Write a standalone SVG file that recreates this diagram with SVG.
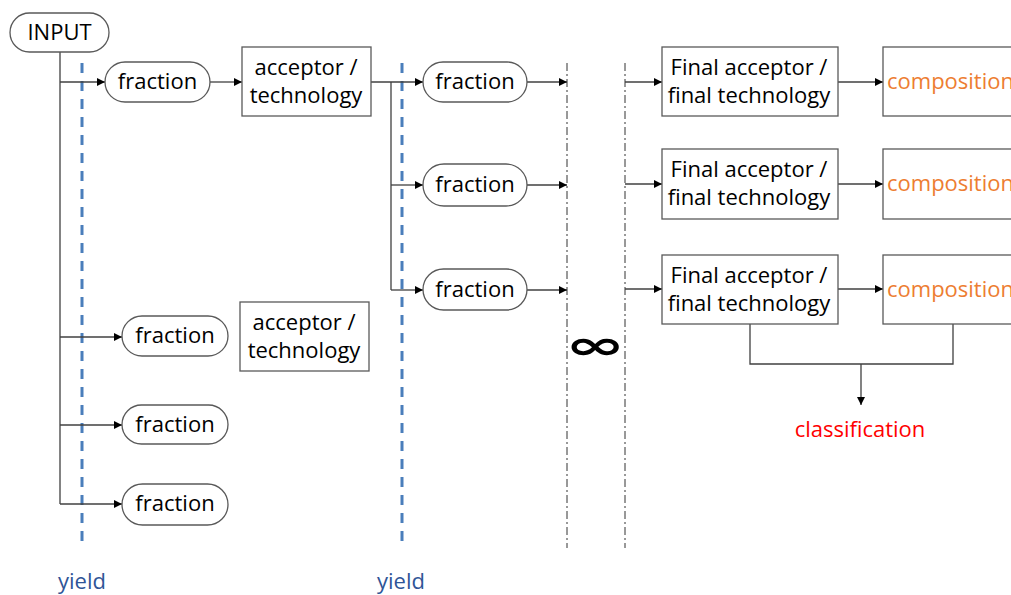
<svg xmlns="http://www.w3.org/2000/svg" width="1011" height="595" viewBox="0 0 1011 595">
<defs>
<marker id="ah" viewBox="0 0 10 10" refX="10" refY="5" markerWidth="8" markerHeight="8" markerUnits="userSpaceOnUse" orient="auto">
<path d="M0,0 L10,5 L0,10 z" fill="#000"/>
</marker>
<style>
.t{font-family:"Open Sans","Noto Sans",sans-serif;font-size:22px;fill:#000}
.pill,.box{fill:#fff;stroke:#595959;stroke-width:1.3}
.c{fill:none;stroke:#404040;stroke-width:1.3}
.a{marker-end:url(#ah)}
.yl{stroke:#4A7EBB;stroke-width:3;stroke-dasharray:10 8;fill:none}
.dd{stroke:#333;stroke-width:1;stroke-dasharray:8 3 2 3;fill:none}
.y{font-family:"Open Sans","Noto Sans",sans-serif;font-size:22px;fill:#2F5597}
.o{fill:#ED7D31}
.r{fill:#FF0000}
</style>
</defs>
<rect width="1011" height="595" fill="#fff"/>

<g id="guides">
<line class="yl" x1="82" y1="63" x2="82" y2="548"/>
<line class="yl" x1="402" y1="63" x2="402" y2="548"/>
<line class="dd" x1="567" y1="63" x2="567" y2="548"/>
<line class="dd" x1="625" y1="63" x2="625" y2="548"/>
</g>

<g id="connectors">
<path class="c" d="M60,52 V504"/>
<path class="c a" d="M60,82 H105"/>
<path class="c a" d="M60,337 H122"/>
<path class="c a" d="M60,425 H122"/>
<path class="c a" d="M60,504 H122"/>
<path class="c a" d="M210,82 H242"/>
<path class="c a" d="M371,82 H423"/>
<path class="c" d="M391,82 V290"/>
<path class="c a" d="M391,185 H423"/>
<path class="c a" d="M391,290 H423"/>
<path class="c a" d="M527,82 H567"/>
<path class="c a" d="M527,185 H567"/>
<path class="c a" d="M527,290 H567"/>
<path class="c a" d="M625,82 H662"/>
<path class="c a" d="M625,184 H662"/>
<path class="c a" d="M625,289 H662"/>
<path class="c a" d="M838,82 H883"/>
<path class="c a" d="M838,184 H883"/>
<path class="c a" d="M838,289 H883"/>
<path class="c" d="M750,324 V364 H953 V324"/>
<path class="c a" d="M861,364 V405"/>
</g>

<g id="input">
<rect class="pill" x="10" y="13" width="99" height="39" rx="19.5"/>
<text class="t" x="59.5" y="40" text-anchor="middle">INPUT</text>
</g>

<g id="fraction1">
<rect class="pill" x="105" y="62" width="105" height="40" rx="20"/>
<text class="t" x="157.5" y="89" text-anchor="middle">fraction</text>
</g>
<g id="fraction2">
<rect class="pill" x="122" y="316" width="106" height="40" rx="20"/>
<text class="t" x="175" y="343" text-anchor="middle">fraction</text>
</g>
<g id="fraction3">
<rect class="pill" x="122" y="405" width="106" height="39" rx="19.5"/>
<text class="t" x="175" y="432" text-anchor="middle">fraction</text>
</g>
<g id="fraction4">
<rect class="pill" x="122" y="484" width="106" height="41" rx="20.5"/>
<text class="t" x="175" y="511" text-anchor="middle">fraction</text>
</g>

<g id="acceptor1">
<rect class="box" x="242" y="47" width="129" height="69"/>
<text class="t" x="306" y="75" text-anchor="middle">acceptor /</text>
<text class="t" x="306" y="103" text-anchor="middle">technology</text>
</g>
<g id="acceptor2">
<rect class="box" x="240" y="302" width="129" height="69"/>
<text class="t" x="304" y="330" text-anchor="middle">acceptor /</text>
<text class="t" x="304" y="358" text-anchor="middle">technology</text>
</g>

<g id="fraction5">
<rect class="pill" x="423" y="62" width="104" height="40" rx="20"/>
<text class="t" x="475" y="89" text-anchor="middle">fraction</text>
</g>
<g id="fraction6">
<rect class="pill" x="423" y="164" width="104" height="42" rx="21"/>
<text class="t" x="475" y="192" text-anchor="middle">fraction</text>
</g>
<g id="fraction7">
<rect class="pill" x="423" y="269" width="104" height="41" rx="20.5"/>
<text class="t" x="475" y="297" text-anchor="middle">fraction</text>
</g>

<g id="infinity">
<text transform="translate(595,359) scale(1.3,0.72)" x="0" y="0" text-anchor="middle" style="font-family:'DejaVu Sans',sans-serif;font-size:56px;font-weight:bold;fill:#000">∞</text>
</g>

<g id="final1">
<rect class="box" x="662" y="47" width="176" height="69"/>
<text class="t" x="749" y="75" text-anchor="middle">Final acceptor /</text>
<text class="t" x="749" y="103" text-anchor="middle">final technology</text>
</g>
<g id="final2">
<rect class="box" x="662" y="149" width="176" height="70"/>
<text class="t" x="749" y="177" text-anchor="middle">Final acceptor /</text>
<text class="t" x="749" y="205" text-anchor="middle">final technology</text>
</g>
<g id="final3">
<rect class="box" x="662" y="255" width="176" height="69"/>
<text class="t" x="749" y="283" text-anchor="middle">Final acceptor /</text>
<text class="t" x="749" y="311" text-anchor="middle">final technology</text>
</g>

<g id="composition1">
<rect class="box" x="883" y="47" width="140" height="69"/>
<text class="t o" x="887" y="89">composition</text>
</g>
<g id="composition2">
<rect class="box" x="883" y="149" width="140" height="70"/>
<text class="t o" x="887" y="191">composition</text>
</g>
<g id="composition3">
<rect class="box" x="883" y="255" width="140" height="69"/>
<text class="t o" x="887" y="297">composition</text>
</g>

<g id="classification">
<text class="t r" x="860" y="437" text-anchor="middle">classification</text>
</g>

<g id="yields">
<text class="y" x="82" y="589" text-anchor="middle">yield</text>
<text class="y" x="401" y="589" text-anchor="middle">yield</text>
</g>
</svg>
